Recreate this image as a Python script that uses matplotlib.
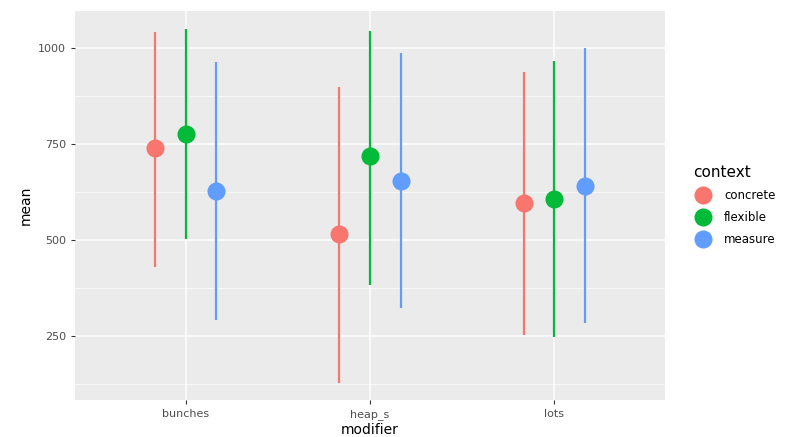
import numpy as np
import matplotlib.pyplot as plt
from matplotlib.lines import Line2D

modifiers = ["bunches", "heap_s", "lots"]
contexts = ["concrete", "flexible", "measure"]

# mean, lower, upper per context (order follows modifiers)
means = {
    "concrete": [740, 515, 596],
    "flexible": [775, 717, 607],
    "measure": [628, 654, 641],
}
lowers = {
    "concrete": [430, 127, 252],
    "flexible": [502, 383, 248],
    "measure": [292, 322, 283],
}
uppers = {
    "concrete": [1042, 899, 938],
    "flexible": [1049, 1045, 966],
    "measure": [964, 986, 1000],
}

colors = {"concrete": "#F8766D", "flexible": "#00BA38", "measure": "#619CFF"}
offsets = {"concrete": -1 / 6, "flexible": 0.0, "measure": 1 / 6}

fig = plt.figure(figsize=(7.92, 4.37), dpi=100)
ax = fig.add_axes([0.0947, 0.085, 0.745, 0.89])
ax.set_facecolor("#EBEBEB")

x = np.arange(1, len(modifiers) + 1)
for c in contexts:
    xc = x + offsets[c]
    ax.vlines(xc, lowers[c], uppers[c], color=colors[c], lw=1.6, zorder=3)
    ax.plot(xc, means[c], "o", color=colors[c], ms=13, mec="none", zorder=4)

ax.set_xlim(0.4, 3.6)
ax.set_ylim(83, 1096)
ax.set_xticks(x)
ax.set_xticklabels(modifiers)
ax.set_yticks([250, 500, 750, 1000])
ax.set_yticks([125, 375, 625, 875], minor=True)
ax.grid(True, which="major", color="white", lw=1.1, zorder=0)
ax.grid(True, which="minor", axis="y", color="white", lw=0.5, zorder=0)
ax.set_axisbelow(True)
for s in ax.spines.values():
    s.set_visible(False)
ax.tick_params(which="major", length=3, color="#333333", labelcolor="#4D4D4D",
               labelsize=8)
ax.tick_params(which="minor", length=0)
ax.set_xlabel("modifier", fontsize=10, labelpad=2)
ax.set_ylabel("mean", fontsize=10, labelpad=4)

handles = [Line2D([0], [0], marker="o", color=colors[c], ls="-", lw=1.6, ms=13,
                  mec="none") for c in contexts]
leg = fig.legend(handles, contexts, title="context", loc="center left",
                 bbox_to_anchor=(0.862, 0.53), frameon=False, fontsize=8.5,
                 title_fontsize=11, handletextpad=1.0, labelspacing=0.75,
                 handlelength=1.6)
leg._legend_box.align = "left"
for h in leg.legend_handles:
    h.set_linestyle("none")

fig.savefig("out.png", dpi=100)
